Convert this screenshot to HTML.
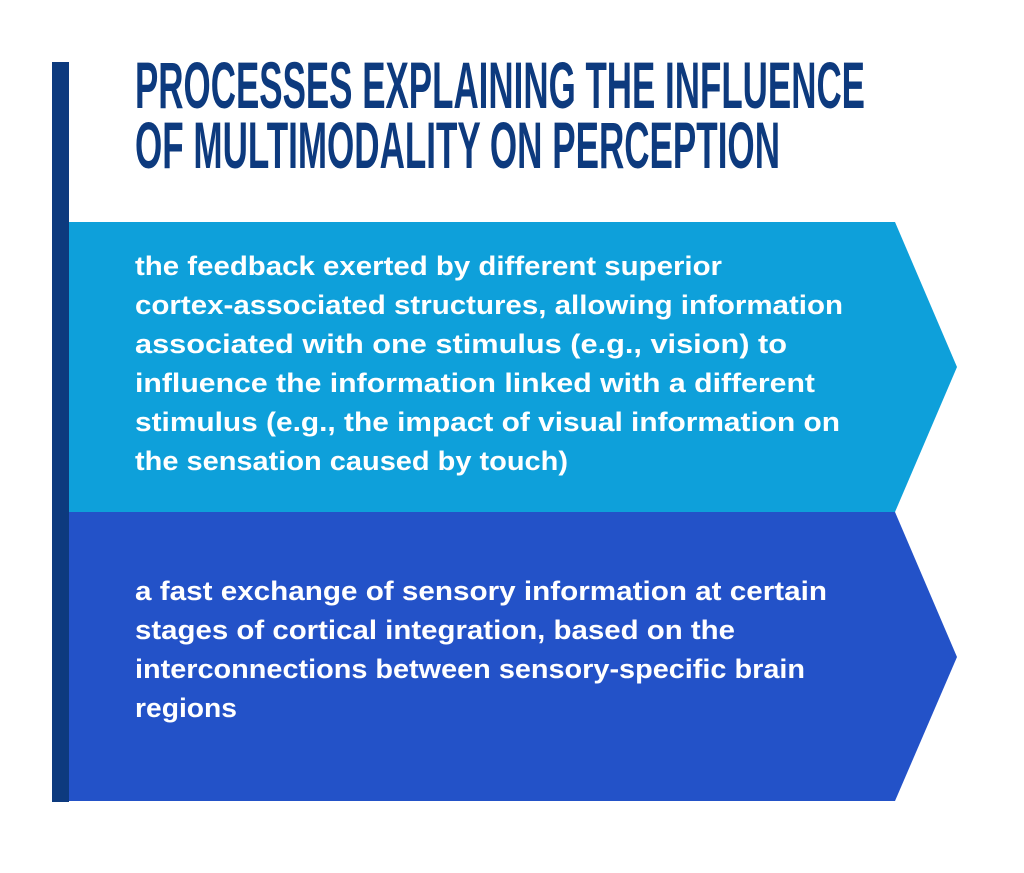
<!DOCTYPE html>
<html><head><meta charset="utf-8"><style>
html,body{margin:0;padding:0;background:#fff;width:1024px;height:873px;overflow:hidden}
svg{display:block}
.t{font-family:"Liberation Sans Narrow","Liberation Sans",sans-serif;font-weight:bold;font-size:66px;fill:#0d3a7e}
.b{font-family:"Liberation Sans",sans-serif;font-size:27px;fill:#fff;font-weight:bold}
</style></head><body>
<svg width="1024" height="873" viewBox="0 0 1024 873">
<rect x="52" y="62" width="17" height="740" fill="#0d3a7e"/>
<polygon points="69,222 895,222 957,367 895,512 69,512" fill="#0ea0da"/>
<polygon points="69,512 895,512 957,657 895,801 69,801" fill="#2352c8"/>
<text class="t" x="135" y="108" textLength="730" lengthAdjust="spacingAndGlyphs">PROCESSES EXPLAINING THE INFLUENCE</text>
<text class="t" x="135" y="168" textLength="645" lengthAdjust="spacingAndGlyphs">OF MULTIMODALITY ON PERCEPTION</text>
<text class="b" x="135" y="275" textLength="587" lengthAdjust="spacingAndGlyphs">the feedback exerted by different superior</text>
<text class="b" x="135" y="314" textLength="708" lengthAdjust="spacingAndGlyphs">cortex-associated structures, allowing information</text>
<text class="b" x="135" y="353" textLength="652" lengthAdjust="spacingAndGlyphs">associated with one stimulus (e.g., vision) to</text>
<text class="b" x="135" y="392" textLength="680" lengthAdjust="spacingAndGlyphs">influence the information linked with a different</text>
<text class="b" x="135" y="431" textLength="705" lengthAdjust="spacingAndGlyphs">stimulus (e.g., the impact of visual information on</text>
<text class="b" x="135" y="470" textLength="433" lengthAdjust="spacingAndGlyphs">the sensation caused by touch)</text>
<text class="b" x="135" y="600" textLength="692" lengthAdjust="spacingAndGlyphs">a fast exchange of sensory information at certain</text>
<text class="b" x="135" y="639" textLength="600" lengthAdjust="spacingAndGlyphs">stages of cortical integration, based on the</text>
<text class="b" x="135" y="678" textLength="670" lengthAdjust="spacingAndGlyphs">interconnections between sensory-specific brain</text>
<text class="b" x="135" y="717" textLength="102" lengthAdjust="spacingAndGlyphs">regions</text>
</svg>
</body></html>
